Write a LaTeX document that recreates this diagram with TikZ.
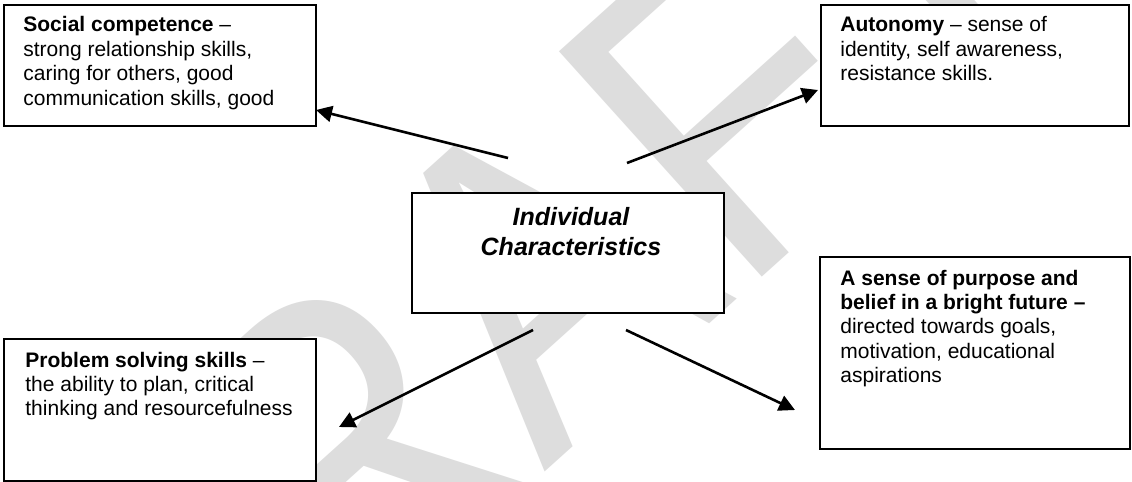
\documentclass[tikz,border=0pt]{standalone}
\usepackage{fontspec}
\setmainfont{Liberation Sans}
\usetikzlibrary{arrows.meta}
\definecolor{wm}{gray}{0.865}
\begin{document}
\begin{tikzpicture}[x=0.5pt,y=-0.5pt,
  box/.style={draw, fill=white, line width=1pt, rectangle, inner sep=0pt, anchor=north west},
  txt/.style={anchor=base west, inner sep=0pt, font=\fontsize{10.5}{12.2}\selectfont},
  ctxt/.style={anchor=base, inner sep=0pt, font=\fontsize{12.5}{15}\selectfont\bfseries\itshape},
  arr/.style={line width=1.3pt, -{Triangle[length=8pt,width=8pt]}},
  wmtext/.style={text=wm, inner sep=0pt, font=\fontsize{195}{195}\selectfont}]
\useasboundingbox (0,0) rectangle (1132,482);
\fill[white] (0,0) rectangle (1132,482);
\begin{scope}
\clip (0,0) rectangle (1132,482);
\node[wmtext, anchor=base west, rotate=42, yscale=1.13] (wmark) at (126,850) {DRAFT};
\end{scope}
% boxes
\node[box, minimum width=156pt, minimum height=60.5pt] (social) at (3,4) {};
\node[box, minimum width=154pt, minimum height=60.5pt] (auton) at (820,4) {};
\node[box, minimum width=156pt, minimum height=60pt] (center) at (411,192) {};
\node[box, minimum width=156pt, minimum height=71pt] (problem) at (3,338) {};
\node[box, minimum width=155pt, minimum height=96pt] (purpose) at (819,256) {};
% texts
\node[txt] (socialtxt) at (23,32) {\begin{tabular}[t]{@{}l@{}}\textbf{Social competence} –\\
strong relationship skills,\\ caring for others, good\\ communication skills, good\end{tabular}};
\node[txt] (autontxt) at (840,32) {\begin{tabular}[t]{@{}l@{}}\textbf{Autonomy} – sense of\\
identity, self awareness,\\ resistance skills.\end{tabular}};
\node[ctxt] (centertxt) at (571,225) {\begin{tabular}[t]{@{}c@{}}Individual\\ Characteristics\end{tabular}};
\node[txt] (problemtxt) at (25,367) {\begin{tabular}[t]{@{}l@{}}\textbf{Problem solving skills} –\\
the ability to plan, critical\\ thinking and resourcefulness\end{tabular}};
\node[txt] (purposetxt) at (840,285) {\begin{tabular}[t]{@{}l@{}}\textbf{A sense of purpose and}\\
\textbf{belief in a bright future –}\\ directed towards goals,\\ motivation, educational\\ aspirations\end{tabular}};
% connector ends
\coordinate (s1) at (508,158);
\coordinate (t1) at (316,110);
\coordinate (s2) at (627,163);
\coordinate (t2) at (818,90);
\coordinate (s3) at (533,330);
\coordinate (t3) at (339,427);
\coordinate (s4) at (626,330);
\coordinate (t4) at (795,410);
\draw[arr] (s1) -- (t1);
\draw[arr] (s2) -- (t2);
\draw[arr] (s3) -- (t3);
\draw[arr] (s4) -- (t4);
\end{tikzpicture}
\end{document}
